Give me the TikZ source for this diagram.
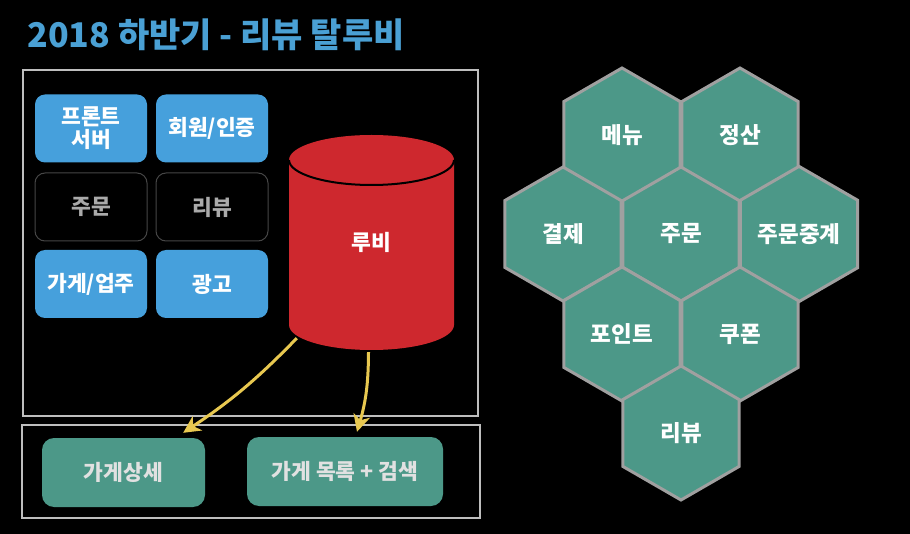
\documentclass[tikz,border=0pt]{standalone}
\usepackage{fontspec}
\setmainfont{Noto Sans CJK KR}
\usetikzlibrary{shapes.geometric,arrows.meta}
\definecolor{titleblue}{RGB}{74,160,212}
\definecolor{svcblue}{RGB}{70,160,220}
\definecolor{rubyred}{RGB}{206,40,46}
\definecolor{teal}{RGB}{76,152,136}
\definecolor{hexline}{RGB}{160,160,160}
\definecolor{framegray}{RGB}{190,190,190}
\definecolor{chalkyellow}{RGB}{232,200,80}

\begin{document}
\begin{tikzpicture}[x=1pt,y=-1pt,
  boxtext/.style={font=\fontsize{21.5}{23}\selectfont\bfseries},
  svcbox/.style={boxtext, rounded corners=10pt, fill=svcblue, text=white,
    minimum width=112pt, minimum height=68pt, align=center, inner sep=0pt},
  oldbox/.style={boxtext, rounded corners=10pt, fill=black, draw={rgb,255:red,70;green,70;blue,70},
    line width=1pt, text={rgb,255:red,170;green,170;blue,170},
    minimum width=112pt, minimum height=68pt, inner sep=0pt},
  pagebox/.style={boxtext, rounded corners=12pt, fill=teal, text={rgb,255:red,225;green,225;blue,225},
    minimum height=69pt, inner sep=0pt},
  hexcell/.style={boxtext, font=\fontsize{22.5}{24}\selectfont\bfseries, regular polygon,
    regular polygon sides=6, shape border rotate=30,
    fill=teal, draw=hexline, line width=3pt, text=white, minimum size=134pt, inner sep=0pt},
  chalk/.style={draw=chalkyellow, line width=3pt, -{Stealth[length=17pt,width=17pt,inset=5pt]}}
]

\fill[black] (0,0) rectangle (910,534);

\node[anchor=base west, text=titleblue, font=\fontsize{34}{40}\selectfont\bfseries] (title) at (24,48) {2018 하반기 - 리뷰 탈루비};

% monolith
\draw[framegray, line width=2pt] (23,70) rectangle (478,416);
\node[svcbox] (front) at (91,128.5) {프론트\\서버};
\node[svcbox] (member) at (212,128.5) {회원/인증};
\node[oldbox] (order) at (91,207) {주문};
\node[oldbox] (review) at (212,207) {리뷰};
\node[svcbox] (shop) at (91,284) {가게/업주};
\node[svcbox] (ad) at (212,284) {광고};

% database
\fill[rubyred] (289,160) -- (289,325) arc[start angle=180, end angle=360, x radius=82.5pt, y radius=25pt]
  -- (454,160) arc[start angle=0, end angle=180, x radius=82.5pt, y radius=25pt] -- cycle;
\draw[black, line width=2pt] (289,160) arc[start angle=180, end angle=360, x radius=82.5pt, y radius=25pt];
\node[boxtext, text=white, minimum width=165pt, minimum height=215pt, inner sep=0pt] (ruby) at (371.5,242.5) {루비};

% new pages
\draw[framegray, line width=2pt] (22,425) rectangle (480,518);
\node[pagebox, minimum width=163pt] (detail) at (123.5,472.5) {가게상세};
\node[pagebox, minimum width=196pt] (list) at (345,471.5) {가게 목록 + 검색};

\draw[chalk] ([xshift=8pt,yshift=12pt]ruby.south west) to[bend left=6] ([xshift=-22pt,yshift=5pt]detail.north east);
\draw[chalk] ([xshift=-3pt,yshift=-2pt]ruby.south) to[bend left=8] ([xshift=12pt,yshift=5pt]list.north);

% services
\node[hexcell] (menu) at (622,135) {메뉴};
\node[hexcell] (settle) at (740,135) {정산};
\node[hexcell] (pay) at (563,234) {결제};
\node[hexcell] (ordersvc) at (681,234) {주문};
\node[hexcell] (relay) at (799,234) {주문중계};
\node[hexcell] (point) at (622,334) {포인트};
\node[hexcell] (coupon) at (740,334) {쿠폰};
\node[hexcell] (reviewsvc) at (681,433) {리뷰};

\end{tikzpicture}
\end{document}
